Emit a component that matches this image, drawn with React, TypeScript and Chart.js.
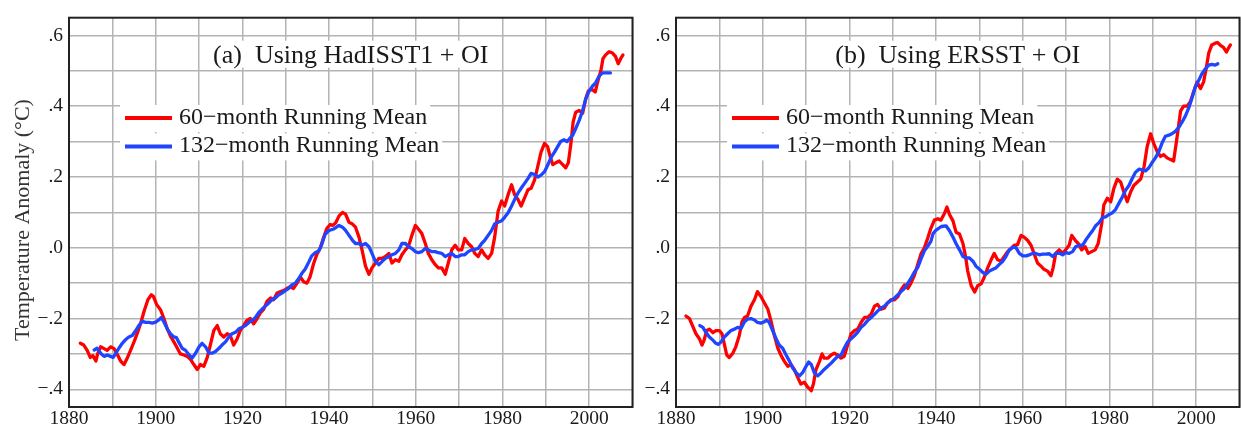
import React, { useEffect, useRef } from 'react';
import { Chart, registerables } from 'chart.js';

Chart.register(...registerables);

// ---------- axis ticks ----------
const xTickValues = [1880, 1890, 1900, 1910, 1920, 1930, 1940, 1950, 1960, 1970, 1980, 1990, 2000, 2010];
const xTickLabels = ['1880', '', '1900', '', '1920', '', '1940', '', '1960', '', '1980', '', '2000', ''];
const yTickValues = [-0.4, -0.3, -0.2, -0.1, 0, 0.1, 0.2, 0.3, 0.4, 0.5, 0.6];
const yTickLabels = ['−.4', '', '−.2', '', '.0', '', '.2', '', '.4', '', '.6'];

const seriesLabels = ['60−month Running Mean', '132−month Running Mean'];
const panelTitles = ['(a)  Using HadISST1 + OI', '(b)  Using ERSST + OI'];
const yAxisTitle = 'Temperature Anomaly (°C)';

// ---------- panel (a): HadISST1 + OI ----------
const redYearsA = [1882.6, 1883.4, 1884.2, 1884.9, 1885.5, 1886.2, 1886.6, 1887.3, 1888.1, 1888.8, 1889.6, 1890.4, 1891.1, 1891.9, 1892.7, 1893.5, 1894.2, 1895.0, 1895.8, 1896.5, 1897.3, 1898.2, 1899.0, 1899.5, 1900.2, 1901.1, 1901.9, 1902.7, 1903.4, 1904.2, 1905.0, 1905.7, 1906.5, 1907.3, 1908.0, 1908.8, 1909.6, 1910.3, 1911.1, 1911.9, 1912.6, 1913.4, 1914.2, 1914.9, 1915.7, 1916.5, 1917.2, 1918.0, 1918.8, 1919.5, 1920.3, 1921.0, 1921.8, 1922.6, 1923.4, 1924.2, 1924.9, 1925.7, 1926.5, 1927.2, 1928.0, 1928.8, 1929.5, 1930.3, 1931.0, 1931.8, 1932.6, 1933.4, 1934.1, 1934.9, 1935.6, 1936.4, 1937.2, 1938.0, 1938.7, 1939.5, 1940.3, 1940.8, 1941.5, 1942.3, 1943.1, 1943.8, 1944.6, 1945.4, 1946.1, 1946.9, 1947.6, 1948.4, 1949.2, 1949.9, 1950.7, 1951.5, 1952.2, 1953.0, 1953.8, 1954.5, 1955.3, 1956.1, 1956.8, 1957.6, 1958.3, 1959.1, 1959.9, 1960.6, 1961.4, 1962.2, 1962.9, 1963.7, 1964.5, 1965.2, 1966.0, 1966.8, 1967.5, 1968.3, 1969.1, 1969.8, 1970.6, 1971.3, 1972.1, 1972.9, 1973.6, 1974.4, 1975.2, 1975.9, 1976.7, 1977.5, 1978.2, 1979.0, 1979.8, 1980.5, 1981.3, 1982.1, 1982.8, 1983.6, 1984.3, 1985.1, 1985.9, 1986.6, 1987.4, 1988.2, 1988.9, 1989.7, 1990.4, 1991.0, 1991.6, 1992.3, 1993.1, 1993.9, 1994.6, 1995.2, 1995.8, 1996.3, 1996.9, 1997.7, 1998.5, 1999.2, 1999.8, 2000.6, 2001.4, 2001.9, 2002.7, 2003.2, 2003.8, 2004.6, 2005.4, 2006.1, 2006.7, 2007.3, 2007.8];
const redValsA = [-0.27, -0.275, -0.29, -0.31, -0.305, -0.32, -0.3, -0.28, -0.285, -0.29, -0.28, -0.285, -0.3, -0.32, -0.33, -0.31, -0.29, -0.266, -0.24, -0.215, -0.18, -0.147, -0.133, -0.138, -0.16, -0.175, -0.2, -0.23, -0.25, -0.266, -0.284, -0.3, -0.303, -0.307, -0.315, -0.33, -0.344, -0.33, -0.335, -0.31, -0.275, -0.234, -0.22, -0.243, -0.252, -0.243, -0.248, -0.275, -0.257, -0.234, -0.22, -0.206, -0.2, -0.215, -0.2, -0.183, -0.174, -0.151, -0.142, -0.147, -0.128, -0.124, -0.121, -0.115, -0.11, -0.115, -0.1, -0.083, -0.096, -0.1, -0.083, -0.046, -0.018, 0.0, 0.028, 0.055, 0.066, 0.063, 0.07, 0.09, 0.1, 0.095, 0.072, 0.067, 0.058, 0.03, -0.006, -0.052, -0.075, -0.057, -0.043, -0.03, -0.03, -0.025, -0.016, -0.043, -0.034, -0.038, -0.02, -0.006, 0.003, 0.035, 0.063, 0.053, 0.04, 0.012, -0.016, -0.034, -0.048, -0.057, -0.057, -0.075, -0.043, -0.006, 0.007, -0.006, -0.006, 0.026, 0.012, 0.003, -0.016, -0.025, -0.006, -0.02, -0.03, -0.016, 0.03, 0.104, 0.132, 0.118, 0.15, 0.178, 0.15, 0.136, 0.118, 0.141, 0.164, 0.168, 0.191, 0.233, 0.27, 0.295, 0.286, 0.258, 0.235, 0.24, 0.245, 0.235, 0.226, 0.24, 0.295, 0.355, 0.383, 0.388, 0.38, 0.42, 0.443, 0.448, 0.44, 0.466, 0.5, 0.535, 0.545, 0.554, 0.55, 0.54, 0.52, 0.535, 0.545];

const blueYearsA = [1885.8, 1886.5, 1887.3, 1888.1, 1888.8, 1889.6, 1890.2, 1890.8, 1891.5, 1892.3, 1893.1, 1893.8, 1894.6, 1895.4, 1896.1, 1896.9, 1897.7, 1898.5, 1899.2, 1900.0, 1900.7, 1901.3, 1901.9, 1902.7, 1903.4, 1904.2, 1904.8, 1905.3, 1906.1, 1906.9, 1907.7, 1908.4, 1909.2, 1910.0, 1910.7, 1911.5, 1912.3, 1913.0, 1913.8, 1914.6, 1915.3, 1916.1, 1916.9, 1917.6, 1918.4, 1919.2, 1919.9, 1920.7, 1921.5, 1922.2, 1923.0, 1923.8, 1924.5, 1925.3, 1926.1, 1926.8, 1927.6, 1928.4, 1929.1, 1929.9, 1930.7, 1931.4, 1932.2, 1933.0, 1933.7, 1934.5, 1935.3, 1936.0, 1936.8, 1937.6, 1938.3, 1939.1, 1940.0, 1941.1, 1942.3, 1943.1, 1943.8, 1944.6, 1945.4, 1946.1, 1946.9, 1947.6, 1948.4, 1949.2, 1949.9, 1950.7, 1951.5, 1952.2, 1953.0, 1953.8, 1954.5, 1955.3, 1956.1, 1956.8, 1957.6, 1958.3, 1959.1, 1959.9, 1960.6, 1961.4, 1962.2, 1962.9, 1963.7, 1964.5, 1965.2, 1966.0, 1966.8, 1967.5, 1968.3, 1969.1, 1969.8, 1970.6, 1971.3, 1972.1, 1972.9, 1973.6, 1974.4, 1975.2, 1975.9, 1976.7, 1977.5, 1978.2, 1979.0, 1979.8, 1980.5, 1981.3, 1982.1, 1982.8, 1983.6, 1984.3, 1985.1, 1985.9, 1986.6, 1987.4, 1988.2, 1988.9, 1989.7, 1990.5, 1991.2, 1992.0, 1992.7, 1993.4, 1994.2, 1994.9, 1995.6, 1996.2, 1996.9, 1997.7, 1998.5, 1999.2, 2000.0, 2000.8, 2001.5, 2002.3, 2003.1, 2003.8, 2004.6, 2004.9];
const blueValsA = [-0.289, -0.284, -0.298, -0.307, -0.303, -0.307, -0.31, -0.298, -0.284, -0.27, -0.259, -0.252, -0.248, -0.234, -0.22, -0.208, -0.211, -0.211, -0.213, -0.21, -0.204, -0.197, -0.21, -0.23, -0.243, -0.252, -0.254, -0.266, -0.284, -0.29, -0.303, -0.312, -0.298, -0.28, -0.27, -0.28, -0.298, -0.298, -0.293, -0.284, -0.275, -0.266, -0.252, -0.243, -0.239, -0.229, -0.225, -0.22, -0.211, -0.206, -0.197, -0.183, -0.174, -0.165, -0.156, -0.147, -0.142, -0.133, -0.128, -0.121, -0.115, -0.105, -0.1, -0.087, -0.073, -0.06, -0.041, -0.023, -0.014, -0.009, 0.009, 0.038, 0.049, 0.053, 0.063, 0.058, 0.049, 0.035, 0.021, 0.012, 0.012, 0.007, 0.012, 0.003, -0.016, -0.039, -0.048, -0.039, -0.03, -0.025, -0.02, -0.016, -0.006, 0.012, 0.012, 0.003, -0.002, -0.011, -0.014, -0.011, -0.002, -0.006, -0.011, -0.011, -0.014, -0.016, -0.025, -0.02, -0.016, -0.025, -0.025, -0.02, -0.02, -0.011, -0.006, -0.005, -0.002, 0.012, 0.021, 0.035, 0.049, 0.067, 0.072, 0.076, 0.086, 0.099, 0.118, 0.136, 0.155, 0.168, 0.182, 0.196, 0.21, 0.207, 0.2, 0.205, 0.215, 0.235, 0.255, 0.27, 0.285, 0.3, 0.305, 0.3, 0.31, 0.318, 0.337, 0.36, 0.388, 0.42, 0.443, 0.457, 0.466, 0.485, 0.494, 0.494, 0.494, 0.494];

// ---------- panel (b): ERSST + OI ----------
const redYearsB = [1882.3, 1883.1, 1883.8, 1884.6, 1885.4, 1886.0, 1886.5, 1887.1, 1887.7, 1888.5, 1889.2, 1890.0, 1890.6, 1891.2, 1891.7, 1892.3, 1893.1, 1893.8, 1894.6, 1895.2, 1895.8, 1896.5, 1897.3, 1898.1, 1898.8, 1899.6, 1900.4, 1901.2, 1901.9, 1902.7, 1903.5, 1904.2, 1905.0, 1905.8, 1906.5, 1907.3, 1908.1, 1908.8, 1909.6, 1910.4, 1911.2, 1911.7, 1912.3, 1913.1, 1913.7, 1914.2, 1915.0, 1915.8, 1916.5, 1917.3, 1918.1, 1918.8, 1919.6, 1920.4, 1921.2, 1921.9, 1922.7, 1923.5, 1924.2, 1925.0, 1925.8, 1926.5, 1927.3, 1928.1, 1928.8, 1929.6, 1930.4, 1931.2, 1931.9, 1932.7, 1933.5, 1934.2, 1935.0, 1935.8, 1936.5, 1937.3, 1938.1, 1938.8, 1939.6, 1940.4, 1941.1, 1941.9, 1942.5, 1943.1, 1943.9, 1944.6, 1945.4, 1946.2, 1946.8, 1947.3, 1948.1, 1948.9, 1949.6, 1950.4, 1951.1, 1951.9, 1952.7, 1953.4, 1954.2, 1955.0, 1955.7, 1956.5, 1957.3, 1958.0, 1958.8, 1959.6, 1960.3, 1961.1, 1961.9, 1962.6, 1963.4, 1964.2, 1964.9, 1965.7, 1966.5, 1967.0, 1967.6, 1968.4, 1969.2, 1969.9, 1970.7, 1971.3, 1972.1, 1972.8, 1973.6, 1974.4, 1975.1, 1975.9, 1976.7, 1977.4, 1978.2, 1978.7, 1979.5, 1980.3, 1981.0, 1981.8, 1982.6, 1983.3, 1984.1, 1984.9, 1985.6, 1986.4, 1987.2, 1988.0, 1988.7, 1989.5, 1990.2, 1991.0, 1991.8, 1992.5, 1993.3, 1994.1, 1994.8, 1995.6, 1996.4, 1997.1, 1997.9, 1998.7, 1999.4, 2000.2, 2001.0, 2001.7, 2002.3, 2002.9, 2003.6, 2004.4, 2004.9, 2005.6, 2006.3, 2007.0, 2007.5, 2007.9];
const redValsB = [-0.193, -0.2, -0.22, -0.243, -0.257, -0.275, -0.26, -0.234, -0.23, -0.24, -0.234, -0.234, -0.243, -0.275, -0.303, -0.31, -0.298, -0.28, -0.248, -0.21, -0.197, -0.193, -0.165, -0.147, -0.124, -0.138, -0.156, -0.174, -0.206, -0.248, -0.284, -0.303, -0.321, -0.335, -0.33, -0.344, -0.367, -0.385, -0.38, -0.394, -0.404, -0.385, -0.344, -0.321, -0.3, -0.312, -0.312, -0.303, -0.298, -0.303, -0.312, -0.307, -0.275, -0.243, -0.234, -0.23, -0.211, -0.197, -0.197, -0.188, -0.165, -0.16, -0.174, -0.17, -0.156, -0.147, -0.147, -0.138, -0.119, -0.105, -0.115, -0.1, -0.078, -0.046, -0.018, 0.0, 0.028, 0.055, 0.078, 0.082, 0.078, 0.096, 0.115, 0.094, 0.076, 0.044, 0.039, 0.012, -0.025, -0.066, -0.107, -0.125, -0.107, -0.102, -0.084, -0.057, -0.034, -0.016, -0.034, -0.038, -0.025, -0.011, -0.002, 0.007, 0.009, 0.035, 0.03, 0.021, 0.007, -0.016, -0.043, -0.052, -0.061, -0.066, -0.079, -0.057, -0.016, -0.006, -0.016, -0.006, 0.007, 0.035, 0.021, 0.012, -0.006, 0.003, -0.016, -0.011, -0.006, 0.012, 0.067, 0.121, 0.14, 0.13, 0.167, 0.194, 0.185, 0.158, 0.13, 0.158, 0.176, 0.185, 0.194, 0.23, 0.286, 0.322, 0.295, 0.272, 0.258, 0.263, 0.254, 0.249, 0.245, 0.313, 0.386, 0.4, 0.4, 0.413, 0.44, 0.468, 0.45, 0.468, 0.505, 0.55, 0.573, 0.578, 0.58, 0.572, 0.566, 0.553, 0.565, 0.573];

const blueYearsB = [1885.5, 1886.2, 1886.9, 1887.7, 1888.5, 1889.2, 1889.8, 1890.4, 1891.2, 1891.9, 1892.7, 1893.5, 1894.2, 1895.0, 1895.8, 1896.5, 1897.3, 1898.1, 1898.8, 1899.6, 1900.4, 1900.9, 1901.5, 1902.3, 1903.1, 1903.8, 1904.6, 1905.4, 1906.2, 1906.9, 1907.7, 1908.5, 1909.2, 1910.0, 1910.6, 1911.2, 1911.9, 1912.7, 1913.5, 1914.2, 1915.0, 1915.8, 1916.5, 1917.3, 1918.1, 1918.8, 1919.6, 1920.4, 1921.2, 1921.9, 1922.7, 1923.5, 1924.2, 1925.0, 1925.8, 1926.5, 1927.3, 1928.1, 1928.8, 1929.6, 1930.4, 1931.2, 1931.9, 1932.7, 1933.5, 1934.2, 1935.0, 1935.8, 1936.5, 1937.3, 1938.1, 1938.8, 1939.3, 1940.0, 1941.2, 1942.3, 1943.1, 1943.9, 1944.6, 1945.4, 1946.2, 1946.9, 1947.7, 1948.5, 1949.2, 1950.0, 1950.8, 1951.5, 1952.3, 1953.1, 1953.8, 1954.6, 1955.4, 1956.1, 1956.9, 1957.7, 1958.4, 1959.2, 1960.0, 1960.8, 1961.5, 1962.3, 1963.0, 1963.8, 1964.6, 1965.3, 1966.1, 1966.9, 1967.6, 1968.4, 1969.2, 1969.9, 1970.7, 1971.5, 1972.2, 1973.0, 1973.8, 1974.5, 1975.3, 1976.1, 1976.8, 1977.6, 1978.4, 1979.1, 1979.9, 1980.7, 1981.4, 1982.2, 1983.0, 1983.7, 1984.5, 1985.2, 1986.0, 1986.8, 1987.5, 1988.3, 1989.1, 1989.8, 1990.6, 1991.4, 1992.1, 1992.9, 1993.7, 1994.4, 1995.2, 1996.0, 1996.7, 1997.5, 1998.3, 1999.0, 1999.8, 2000.6, 2001.3, 2002.1, 2002.9, 2003.6, 2004.4, 2005.0];
const blueValsB = [-0.22, -0.225, -0.239, -0.252, -0.261, -0.27, -0.273, -0.266, -0.252, -0.243, -0.234, -0.23, -0.225, -0.228, -0.209, -0.202, -0.2, -0.204, -0.211, -0.213, -0.209, -0.204, -0.211, -0.234, -0.257, -0.275, -0.284, -0.303, -0.321, -0.339, -0.353, -0.362, -0.353, -0.335, -0.323, -0.33, -0.353, -0.362, -0.353, -0.344, -0.335, -0.326, -0.317, -0.307, -0.303, -0.284, -0.266, -0.257, -0.248, -0.239, -0.225, -0.216, -0.206, -0.197, -0.188, -0.179, -0.17, -0.165, -0.156, -0.149, -0.142, -0.133, -0.124, -0.115, -0.1, -0.087, -0.069, -0.055, -0.032, -0.009, 0.005, 0.018, 0.04, 0.05, 0.06, 0.062, 0.048, 0.03, 0.012, -0.006, -0.025, -0.029, -0.029, -0.038, -0.052, -0.061, -0.07, -0.075, -0.066, -0.061, -0.057, -0.047, -0.038, -0.025, -0.006, 0.001, 0.001, -0.016, -0.023, -0.023, -0.02, -0.016, -0.016, -0.02, -0.018, -0.018, -0.017, -0.025, -0.016, -0.015, -0.02, -0.014, -0.016, -0.011, 0.003, 0.007, 0.007, 0.021, 0.035, 0.048, 0.062, 0.071, 0.085, 0.087, 0.094, 0.099, 0.108, 0.126, 0.144, 0.162, 0.176, 0.194, 0.213, 0.222, 0.22, 0.217, 0.226, 0.24, 0.254, 0.272, 0.295, 0.315, 0.318, 0.322, 0.329, 0.34, 0.354, 0.372, 0.395, 0.422, 0.454, 0.473, 0.491, 0.505, 0.516, 0.518, 0.516, 0.52];

// ---------- styles ----------
const RED = '#ff0000';
const BLUE = '#1f45ff';
const GRID = '#b3b3b3';
const FRAME = '#222222';
const TEXT = '#1a1a1a';
const SERIF = '"Liberation Serif", "Times New Roman", serif';
const H = 429;

type PanelProps = {
  redYears: number[];
  redVals: number[];
  blueYears: number[];
  blueVals: number[];
  title: string;
  showYTitle: boolean;
  width: number;
  axisWidth: number;
  rightPad: number;
};

function findIdx(arr: number[], v: number) {
  for (let i = 0; i < arr.length; i++) if (Math.abs(arr[i] - v) < 1e-6) return i;
  return -1;
}

function Panel(props: PanelProps) {
  const ref = useRef<HTMLCanvasElement | null>(null);
  useEffect(() => {
    const canvas = ref.current;
    if (!canvas) return;
    const decor = {
      id: 'decor',
      beforeDatasetsDraw(chart: any) {
        const ctx = chart.ctx;
        const a = chart.chartArea;
        ctx.save();
        // title
        ctx.font = `26px ${SERIF}`;
        const cx = (a.left + a.right) / 2;
        const tw = ctx.measureText(props.title).width;
        ctx.fillStyle = '#ffffff';
        ctx.fillRect(cx - tw / 2 - 3, a.top + 23, tw + 6, 27);
        ctx.fillStyle = TEXT;
        ctx.textAlign = 'center';
        ctx.textBaseline = 'alphabetic';
        ctx.fillText(props.title, cx, a.top + 45);
        // legend
        ctx.font = `24px ${SERIF}`;
        const rowsY = [a.top + 100.3, a.top + 128.7];
        const x0 = a.left + 56;
        const x1 = a.left + 103;
        const tx = a.left + 110;
        const colors = [RED, BLUE];
        ctx.fillStyle = '#ffffff';
        seriesLabels.forEach((lab, i) => {
          const w = ctx.measureText(lab).width;
          ctx.fillRect(x0 - 5, rowsY[i] - 13, tx + w + 3 - (x0 - 5), 27);
        });
        seriesLabels.forEach((lab, i) => {
          ctx.strokeStyle = colors[i];
          ctx.lineWidth = 4;
          ctx.beginPath();
          ctx.moveTo(x0, rowsY[i]);
          ctx.lineTo(x1, rowsY[i]);
          ctx.stroke();
          ctx.fillStyle = TEXT;
          ctx.textAlign = 'left';
          ctx.textBaseline = 'middle';
          ctx.fillText(lab, tx, rowsY[i] - 0.5);
        });
        ctx.restore();
      },
      afterDraw(chart: any) {
        const ctx = chart.ctx;
        const a = chart.chartArea;
        ctx.save();
        ctx.strokeStyle = FRAME;
        ctx.lineWidth = 2;
        ctx.strokeRect(a.left, a.top, a.right - a.left, a.bottom - a.top);
        if (props.showYTitle) {
          ctx.translate(23, 220);
          ctx.rotate(-Math.PI / 2);
          ctx.font = `22px ${SERIF}`;
          ctx.fillStyle = '#333333';
          ctx.textAlign = 'center';
          ctx.textBaseline = 'middle';
          ctx.fillText(yAxisTitle, 0, 0);
        }
        ctx.restore();
      },
    };
    const chart = new Chart(canvas, {
      type: 'line',
      data: {
        datasets: [
          {
            label: seriesLabels[1],
            data: props.blueYears.map((x, i) => ({ x, y: props.blueVals[i] })),
            borderColor: BLUE,
            borderWidth: 3.3,
            pointRadius: 0,
            order: 0,
          },
          {
            label: seriesLabels[0],
            data: props.redYears.map((x, i) => ({ x, y: props.redVals[i] })),
            borderColor: RED,
            borderWidth: 3.3,
            pointRadius: 0,
            order: 1,
          },
        ],
      },
      options: {
        animation: false,
        responsive: false,
        maintainAspectRatio: false,
        layout: { padding: { top: 8, right: props.rightPad, bottom: 0, left: 0 } },
        elements: { line: { tension: 0, borderJoinStyle: 'round', borderCapStyle: 'round' } },
        plugins: {
          legend: { display: false },
          tooltip: { enabled: false },
          title: { display: false },
        },
        scales: {
          x: {
            type: 'linear',
            min: 1880,
            max: 2010,
            afterBuildTicks: (s: any) => {
              s.ticks = xTickValues.map((v) => ({ value: v }));
            },
            afterFit: (s: any) => {
              s.height = 22;
            },
            ticks: {
              autoSkip: false,
              maxRotation: 0,
              padding: 0,
              color: TEXT,
              font: { family: SERIF, size: 19.5 },
              callback: (v: any) => {
                const i = findIdx(xTickValues, Number(v));
                return i >= 0 ? xTickLabels[i] : '';
              },
            },
            grid: { color: GRID, lineWidth: 1.5, drawTicks: false },
            border: { display: false },
          },
          y: {
            type: 'linear',
            min: -0.45,
            max: 0.65,
            afterBuildTicks: (s: any) => {
              s.ticks = yTickValues.map((v) => ({ value: v }));
            },
            afterFit: (s: any) => {
              s.width = props.axisWidth;
            },
            ticks: {
              autoSkip: false,
              padding: 6,
              color: TEXT,
              font: { family: SERIF, size: 19.5 },
              callback: (v: any) => {
                const i = findIdx(yTickValues, Number(v));
                return i >= 0 ? yTickLabels[i] : '';
              },
            },
            grid: { color: GRID, lineWidth: 1.5, drawTicks: false },
            border: { display: false },
          },
        },
      },
      plugins: [decor],
    } as any);
    return () => chart.destroy();
  }, []);
  return (
    <canvas
      ref={ref}
      width={props.width}
      height={H}
      style={{ display: 'block', width: props.width, height: H }}
    />
  );
}

export default function App() {
  return (
    <div
      style={{
        position: 'fixed',
        left: 0,
        top: 0,
        width: 1241,
        height: H,
        display: 'flex',
        background: '#ffffff',
      }}
    >
      <Panel
        redYears={redYearsA}
        redVals={redValsA}
        blueYears={blueYearsA}
        blueVals={blueValsA}
        title={panelTitles[0]}
        showYTitle={true}
        width={634}
        axisWidth={69}
        rightPad={1.5}
      />
      <Panel
        redYears={redYearsB}
        redVals={redValsB}
        blueYears={blueYearsB}
        blueVals={blueValsB}
        title={panelTitles[1]}
        showYTitle={false}
        width={607}
        axisWidth={42}
        rightPad={1.5}
      />
    </div>
  );
}
